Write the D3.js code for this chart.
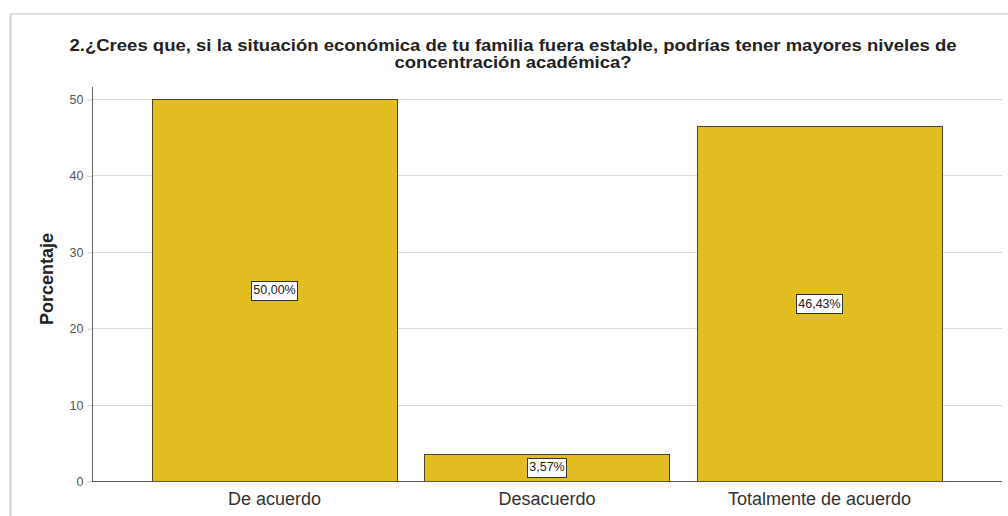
<!DOCTYPE html>
<html><head><meta charset="utf-8">
<script src="https://cdn.jsdelivr.net/npm/d3@7"></script>
<style>html,body{margin:0;padding:0;background:#fff;}svg{display:block;}</style>
</head><body>
<svg id="c" width="1008" height="516"></svg>
<script>
const categories = ["De acuerdo", "Desacuerdo", "Totalmente de acuerdo"];
const values = [50.00, 3.57, 46.43];
const labels = ["50,00%", "3,57%", "46,43%"];
const yTicks = [0, 10, 20, 30, 40, 50];
const titleLines = ["2.¿Crees que, si la situación económica de tu familia fuera estable, podrías tener mayores niveles de", "concentración académica?"];
const yLabel = "Porcentaje";

const svg = d3.select("#c");
const font = "'Liberation Sans', Arial, sans-serif";

// frame / shadow
svg.append("line").attr("x1",10).attr("x2",1008).attr("y1",14).attr("y2",14).attr("stroke","#d4d4d4").attr("stroke-width",1.5);
svg.append("line").attr("x1",10.5).attr("x2",10.5).attr("y1",14).attr("y2",516).attr("stroke","#cfcfcf").attr("stroke-width",2);

const x0 = 92, x1 = 1002, yBase = 481;
const x = d3.scaleBand().domain(categories).range([x0, x1]).paddingInner(0.1).paddingOuter(0.22);
const y = d3.scaleLinear().domain([0, 50]).range([yBase, 99]);

// gridlines
svg.append("g").selectAll("line").data(yTicks.filter(d=>d>0)).join("line")
  .attr("x1", x0).attr("x2", x1).attr("y1", d=>Math.round(y(d))+0.5).attr("y2", d=>Math.round(y(d))+0.5)
  .attr("stroke", "#d9d9d9").attr("stroke-width", 1);

// y axis
const yAxis = d3.axisLeft(y).tickValues(yTicks).tickSize(5).tickPadding(4);
const gy = svg.append("g").attr("transform", `translate(${x0+0.5},0.5)`).call(yAxis);
gy.select(".domain").remove();
gy.selectAll(".tick line").attr("stroke", "#ccc");
gy.selectAll("text").attr("font-family", font).attr("font-size", 12.5).attr("fill", "#555");
svg.append("line").attr("x1", x0+0.5).attr("x2", x0+0.5).attr("y1", 87).attr("y2", yBase).attr("stroke", "#666");

// bars
svg.append("g").selectAll("rect").data(values).join("rect")
  .attr("x", (d,i)=>Math.round(x(categories[i]))+0.5)
  .attr("y", d=>Math.round(y(d))+0.5)
  .attr("width", Math.round(x.bandwidth()))
  .attr("height", d=>yBase - Math.round(y(d)))
  .attr("fill", "#e2bd22").attr("stroke", "#4a4430").attr("stroke-width", 1);

// x axis line
svg.append("line").attr("x1", x0).attr("x2", x1).attr("y1", yBase+0.5).attr("y2", yBase+0.5).attr("stroke", "#555");

// x labels
const xAxis = d3.axisBottom(x).tickSize(0).tickPadding(11);
const gx = svg.append("g").attr("transform", `translate(0,${yBase})`).call(xAxis);
gx.select(".domain").remove();
gx.selectAll("text").attr("font-family", font).attr("font-size", 18).attr("fill", "#333");

// value labels
const lg = svg.append("g");
values.forEach((v,i)=>{
  const cx = x(categories[i]) + x.bandwidth()/2;
  const cy = (y(v) + yBase)/2;
  const t = lg.append("text").attr("x", cx).attr("y", cy).attr("text-anchor","middle").attr("dominant-baseline","central")
    .attr("font-family", font).attr("font-size", 12.5).attr("fill", "#222").text(labels[i]);
  const bb = t.node().getBBox();
  lg.insert("rect", "text").attr("x", Math.round(bb.x-2)+0.5).attr("y", Math.round(cy-9.5)+0.5)
    .attr("width", Math.round(bb.width+4)).attr("height", 19)
    .attr("fill", "#fff").attr("stroke", "#333").attr("stroke-width", 1);
});

// title
const titleWidths = [887, 237];
svg.append("g").selectAll("text").data(titleLines).join("text")
  .attr("x", 513).attr("y", (d,i)=>51 + i*17).attr("text-anchor","middle")
  .attr("textLength", (d,i)=>titleWidths[i]).attr("lengthAdjust","spacingAndGlyphs")
  .attr("font-family", font).attr("font-weight","bold").attr("font-size", 16).attr("fill","#222").text(d=>d);

// y label
svg.append("text").attr("transform","translate(53,279) rotate(-90)").attr("text-anchor","middle")
  .attr("font-family", font).attr("font-weight","bold").attr("font-size", 18).attr("fill","#222").text(yLabel);
</script>
</body></html>
